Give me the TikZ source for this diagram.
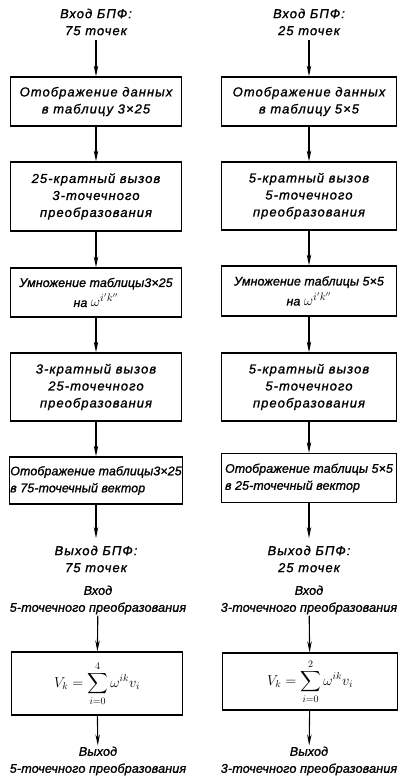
\documentclass[tikz,border=0pt]{standalone}
\usepackage{fontspec}
\usepackage{amsmath}
\setmainfont{Liberation Sans}
\newfontfamily\gostfont{Liberation Sans}[LetterSpace=8,FakeBold=1.2]
\newfontfamily\gosttight{Liberation Sans}[LetterSpace=1,FakeBold=1.2]
\usetikzlibrary{arrows.meta}
\newcommand\dftsum[1]{$\displaystyle V_k=\sum_{i=0}^{#1}\omega^{ik}v_i$}
\newcommand\twid{{\fontsize{15}{17}\selectfont$\omega^{i'k''}$}}
\tikzset{
  blk/.style={draw,line width=1.2pt,inner sep=1pt,align=center,
    font=\gostfont\itshape\fontsize{13}{17}\selectfont},
  lblk/.style={blk,minimum width=171pt},
  rblk/.style={blk,minimum width=175pt},
  tight/.style={align=left,font=\gosttight\itshape\fontsize{12.4}{17}\selectfont},
  txt/.style={align=center,inner sep=1pt,font=\gostfont\itshape\fontsize{13}{17}\selectfont},
  ttxt/.style={txt,font=\gosttight\itshape\fontsize{12.6}{17}\selectfont},
  flow/.style={-{Stealth[length=11pt,width=4.5pt]},line width=1.1pt},
}
\begin{document}
\begin{tikzpicture}[x=1pt,y=-1pt]
  \useasboundingbox (0,0) rectangle (416,779);
  % ---- left column: 75-point FFT ----
  \node[txt] (inL) at (96,22) {Вход БПФ:\\75 точек};
  \node[lblk,minimum height=49pt] (L1) at (96,101.5) {Отображение данных\\в таблицу 3×25};
  \node[lblk,minimum height=69pt] (L2) at (96,196.5) {25-кратный вызов\\3-точечного\\преобразования};
  \node[lblk,minimum height=49pt,tight,align=center] (L3) at (96,292.5) {Умножение таблицы3×25\\[3pt]на \twid};
  \node[lblk,minimum height=68pt] (L4) at (96,387) {3-кратный вызов\\25-точечного\\преобразования};
  \node[lblk,minimum height=47pt,tight] (L5) at (96,480.5) {Отображение таблицы3×25\\в 75-точечный вектор};
  \node[txt] (outL) at (96,559) {Выход БПФ:\\75 точек};
  \coordinate (inLa) at (96,40);
  \coordinate (outLa) at (96,538);
  \draw[flow] (inLa) -- (L1);
  \draw[flow] (L1) -- (L2);
  \draw[flow] (L2) -- (L3);
  \draw[flow] (L3) -- (L4);
  \draw[flow] (L4) -- (L5);
  \draw[flow] (L5) -- (outLa);
  % ---- right column: 25-point FFT ----
  \node[txt] (inR) at (309,22) {Вход БПФ:\\25 точек};
  \node[rblk,minimum height=49pt] (R1) at (309,101.5) {Отображение данных\\в таблицу 5×5};
  \node[rblk,minimum height=68pt] (R2) at (309,196) {5-кратный вызов\\5-точечного\\преобразования};
  \node[rblk,minimum height=50pt,tight,align=center] (R3) at (309,291) {Умножение таблицы 5×5\\[3pt]на \twid};
  \node[rblk,minimum height=68pt] (R4) at (309,387) {5-кратный вызов\\5-точечного\\преобразования};
  \node[rblk,minimum height=49pt,tight] (R5) at (309,478) {Отображение таблицы 5×5\\в 25-точечный вектор};
  \node[txt] (outR) at (309,559) {Выход БПФ:\\25 точек};
  \coordinate (inRa) at (309,40);
  \coordinate (outRa) at (309,538);
  \draw[flow] (inRa) -- (R1);
  \draw[flow] (R1) -- (R2);
  \draw[flow] (R2) -- (R3);
  \draw[flow] (R3) -- (R4);
  \draw[flow] (R4) -- (R5);
  \draw[flow] (R5) -- (outRa);
  % ---- small transforms ----
  \node[ttxt] (in5) at (98,600) {Вход\\5-точечного преобразования};
  \node[lblk,minimum height=63pt,font=\fontsize{14}{17}\selectfont] (P5) at (97,683.5) {\dftsum{4}};
  \node[ttxt] (out5) at (98,761) {Выход\\5-точечного преобразования};
  \node[ttxt] (in3) at (309,600) {Вход\\3-точечного преобразования};
  \node[rblk,minimum height=57pt,font=\fontsize{14}{17}\selectfont] (P3) at (310,681.5) {\dftsum{2}};
  \node[ttxt] (out3) at (309,761) {Выход\\3-точечного преобразования};
  \draw[flow] (in5) -- (P5);
  \draw[flow] (P5) -- (out5);
  \draw[flow] (in3) -- (P3);
  \draw[flow] (P3) -- (out3);
\end{tikzpicture}
\end{document}
